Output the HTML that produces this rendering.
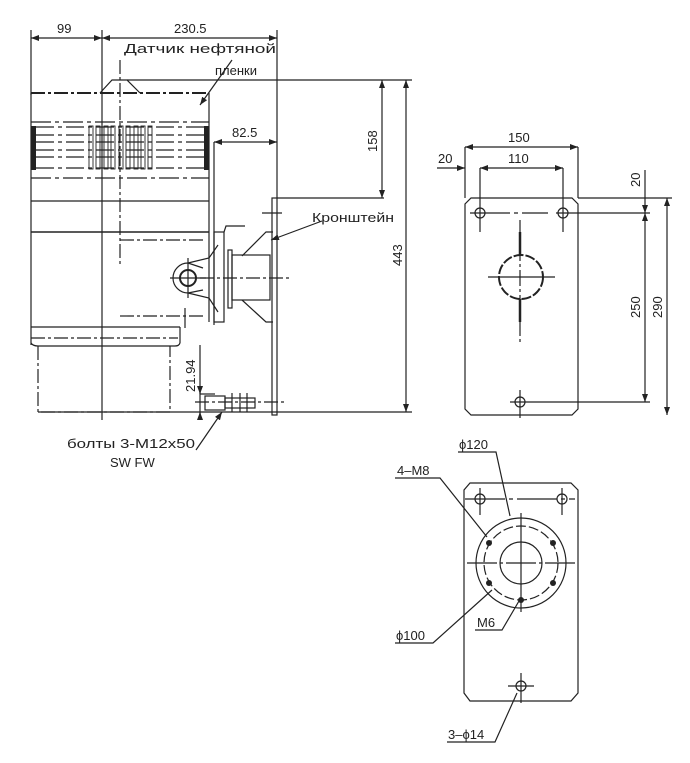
<!DOCTYPE html>
<html><head><meta charset="utf-8"><style>
html,body{margin:0;padding:0;background:#fff;}
svg{display:block}
text{font-family:"Liberation Sans",sans-serif;fill:#222;font-size:13px}
</style></head><body>
<svg width="690" height="763" viewBox="0 0 690 763" xmlns="http://www.w3.org/2000/svg">
<defs>
<marker id="a" markerWidth="8" markerHeight="6" refX="8" refY="3" orient="auto-start-reverse" markerUnits="userSpaceOnUse"><path d="M0,0 L8,3 L0,6z" fill="#222"/></marker>
</defs>
<g stroke="#222" stroke-width="1.2" fill="none">
<line x1="31" y1="30" x2="31" y2="95"/>
<line x1="102" y1="30" x2="102" y2="420"/>
<line x1="277" y1="30" x2="277" y2="198"/>
<line x1="31" y1="38" x2="102" y2="38" marker-start="url(#a)" marker-end="url(#a)"/>
<line x1="102" y1="38" x2="277" y2="38" marker-start="url(#a)" marker-end="url(#a)"/>
<line x1="127" y1="80" x2="412" y2="80"/>
<path d="M100,93 L112,80 L127,80 L140,93"/>
<line x1="31" y1="93" x2="209" y2="93" stroke-width="2" stroke-dasharray="14,3,3,3"/>
<line x1="31" y1="93" x2="31" y2="345"/>
<line x1="209" y1="93" x2="209" y2="322"/>
<line x1="31" y1="122" x2="209" y2="122" stroke-dasharray="20,4,4,4"/>
<line x1="31" y1="178" x2="209" y2="178" stroke-dasharray="20,4,4,4"/>
<line x1="31" y1="201" x2="209" y2="201"/>
<line x1="31" y1="232" x2="209" y2="232" stroke-width="1.6"/>
<g stroke-dasharray="18,4,4,4">
<line x1="36" y1="127" x2="204" y2="127"/><line x1="36" y1="135" x2="204" y2="135"/>
<line x1="36" y1="142" x2="204" y2="142"/><line x1="36" y1="150" x2="204" y2="150"/>
<line x1="36" y1="157" x2="204" y2="157"/><line x1="36" y1="168" x2="204" y2="168"/>
</g>
<g fill="#222" stroke="none"><rect x="31" y="126" width="5" height="44"/><rect x="204" y="126" width="5" height="44"/></g>
<g stroke-width="0.9">
<rect x="89" y="126" width="4" height="43"/><rect x="96" y="126" width="4" height="43"/><rect x="104" y="126" width="4" height="43"/><rect x="111" y="126" width="4" height="43"/><rect x="119" y="126" width="4" height="43"/><rect x="126" y="126" width="4" height="43"/><rect x="134" y="126" width="4" height="43"/><rect x="141" y="126" width="4" height="43"/><rect x="148" y="126" width="4" height="43"/>
</g>
<line x1="120" y1="60" x2="120" y2="265" stroke-dasharray="14,3,3,3"/>
<line x1="120" y1="240" x2="203" y2="240" stroke-dasharray="14,3,3,3"/>
<line x1="120" y1="316" x2="203" y2="316" stroke-dasharray="14,3,3,3"/>
<line x1="185" y1="308" x2="185" y2="328"/>
<line x1="31" y1="327" x2="180" y2="327"/>
<line x1="180" y1="327" x2="180" y2="343"/>
<line x1="31" y1="338" x2="178" y2="338" stroke-dasharray="14,3,3,3"/>
<path d="M31,343 Q33,346 38,346 L175,346 Q179,346 180,343"/>
<path d="M38,346 L38,412 L170,412 L170,346" stroke-dasharray="14,3,3,3"/>
<circle cx="188" cy="278" r="8" stroke-width="2"/>
<path d="M203,268 L188,263 A15,15 0 1,0 188,293 L203,290"/>
<line x1="170" y1="278" x2="206" y2="278"/><line x1="188" y1="258" x2="188" y2="298"/>
<path d="M188,263 L209,258 L218,245"/>
<path d="M188,293 L209,298 L218,312"/>
<line x1="214" y1="142" x2="214" y2="325"/>
<rect x="214" y="232" width="10" height="90"/>
<path d="M224,232 L226,226 L245,226"/>
<rect x="228" y="250" width="4" height="58"/>
<rect x="232" y="255" width="38" height="45"/>
<path d="M242,256 L266,232 L273,232"/>
<path d="M242,300 L266,322 L273,322"/>
<line x1="200" y1="278" x2="290" y2="278" stroke-dasharray="14,3,3,3"/>
<rect x="272" y="198" width="5" height="217"/>
<line x1="262" y1="213" x2="282" y2="213"/>
<line x1="277" y1="198" x2="384" y2="198"/>
<line x1="214" y1="142" x2="277" y2="142" marker-start="url(#a)" marker-end="url(#a)"/>
<line x1="382" y1="80" x2="382" y2="198" marker-start="url(#a)" marker-end="url(#a)"/>
<line x1="406" y1="80" x2="406" y2="412" marker-start="url(#a)" marker-end="url(#a)"/>
<rect x="205" y="396" width="20" height="14"/>
<rect x="225" y="398" width="30" height="10"/>
<line x1="232" y1="393" x2="232" y2="412"/><line x1="240" y1="393" x2="240" y2="412"/><line x1="247" y1="393" x2="247" y2="412"/>
<line x1="195" y1="402" x2="285" y2="402" stroke-dasharray="14,3,3,3"/>
<line x1="38" y1="412" x2="412" y2="412"/>
<line x1="200" y1="345" x2="200" y2="420"/>
<line x1="200" y1="394" x2="215" y2="394"/>
<line x1="200" y1="389" x2="200" y2="394" marker-end="url(#a)"/>
<line x1="200" y1="418" x2="200" y2="412" marker-end="url(#a)"/>
<line x1="232" y1="60" x2="200" y2="105" marker-end="url(#a)"/>
<line x1="322" y1="221" x2="271" y2="240" marker-end="url(#a)"/>
<line x1="196" y1="450" x2="222" y2="412" marker-end="url(#a)"/>

<path d="M471,198 L572,198 L578,204 L578,409 L572,415 L471,415 L465,409 L465,204 Z"/>
<circle cx="480" cy="213" r="5"/><circle cx="563" cy="213" r="5"/><circle cx="520" cy="402" r="5"/>
<line x1="470" y1="213" x2="548" y2="213" stroke-dasharray="40,4,4,4"/>
<line x1="556" y1="213" x2="650" y2="213"/>
<line x1="480" y1="168" x2="480" y2="232"/><line x1="563" y1="168" x2="563" y2="232"/>
<line x1="465" y1="147" x2="465" y2="198"/><line x1="578" y1="147" x2="578" y2="198"/>
<line x1="510" y1="402" x2="650" y2="402"/><line x1="520" y1="390" x2="520" y2="418"/>
<line x1="578" y1="198" x2="672" y2="198"/>
<circle cx="521" cy="277" r="22" stroke-width="2" stroke-dasharray="10,2"/>
<line x1="488" y1="277" x2="555" y2="277"/>
<line x1="520" y1="220" x2="520" y2="345" stroke-dasharray="16,3,3,3"/>
<line x1="520" y1="232" x2="520" y2="255" stroke-width="2.5"/>
<line x1="520" y1="299" x2="520" y2="322" stroke-width="2.5"/>
<line x1="465" y1="147" x2="578" y2="147" marker-start="url(#a)" marker-end="url(#a)"/>
<line x1="480" y1="168" x2="563" y2="168" marker-start="url(#a)" marker-end="url(#a)"/>
<line x1="437" y1="168" x2="465" y2="168" marker-end="url(#a)"/>
<line x1="645" y1="170" x2="645" y2="213" marker-end="url(#a)"/>
<line x1="645" y1="213" x2="645" y2="402" marker-start="url(#a)" marker-end="url(#a)"/>
<line x1="667" y1="198" x2="667" y2="415" marker-start="url(#a)" marker-end="url(#a)"/>

<path d="M470,483 L571,483 L578,490 L578,693 L571,701 L470,701 L464,693 L464,490 Z"/>
<circle cx="480" cy="499" r="5"/><circle cx="562" cy="499" r="5"/><circle cx="521" cy="686" r="5"/>
<line x1="465" y1="499" x2="575" y2="499" stroke-dasharray="40,4,4,4"/>
<line x1="480" y1="488" x2="480" y2="515"/><line x1="562" y1="488" x2="562" y2="515"/>
<line x1="508" y1="686" x2="534" y2="686"/><line x1="521" y1="673" x2="521" y2="703"/>
<circle cx="521" cy="563" r="45"/>
<circle cx="521" cy="563" r="37" stroke-dasharray="10,3"/>
<circle cx="521" cy="563" r="21"/>
<line x1="467" y1="563" x2="575" y2="563" stroke-dasharray="30,3,3,3"/>
<line x1="521" y1="513" x2="521" y2="612"/>
<g fill="#222" stroke="none">
<circle cx="489" cy="543" r="3"/><circle cx="553" cy="543" r="3"/><circle cx="489" cy="583" r="3"/><circle cx="553" cy="583" r="3"/><circle cx="521" cy="600" r="3"/>
</g>
<polyline points="458,452 496,452 510,516" />
<polyline points="395,478 440,478 487,537"/>
<polyline points="395,643 433,643 492,590"/>
<polyline points="475,630 502,630 519,601"/>
<polyline points="447,742 495,742 517,693"/>
</g>
<g>
<text x="57" y="33">99</text>
<text x="174" y="33">230.5</text>
<text x="124" y="53" font-size="15" textLength="152" lengthAdjust="spacingAndGlyphs">Датчик нефтяной</text>
<text x="215" y="75" font-size="14">пленки</text>
<text x="232" y="137">82.5</text>
<text x="312" y="222" font-size="15" textLength="82" lengthAdjust="spacingAndGlyphs">Кронштейн</text>
<text transform="translate(377,152) rotate(-90)">158</text>
<text transform="translate(402,266) rotate(-90)">443</text>
<text transform="translate(195,392) rotate(-90)">21.94</text>
<text x="67" y="448" font-size="14" textLength="128" lengthAdjust="spacingAndGlyphs">болты 3-M12x50</text>
<text x="110" y="467" font-size="14">SW FW</text>
<text x="508" y="142">150</text>
<text x="508" y="163">110</text>
<text x="438" y="163">20</text>
<text transform="translate(640,187) rotate(-90)">20</text>
<text transform="translate(640,318) rotate(-90)">250</text>
<text transform="translate(662,318) rotate(-90)">290</text>
<text x="459" y="449">ϕ120</text>
<text x="397" y="475">4–M8</text>
<text x="396" y="640">ϕ100</text>
<text x="477" y="627">M6</text>
<text x="448" y="739">3–ϕ14</text>
</g>
</svg>
</body></html>
